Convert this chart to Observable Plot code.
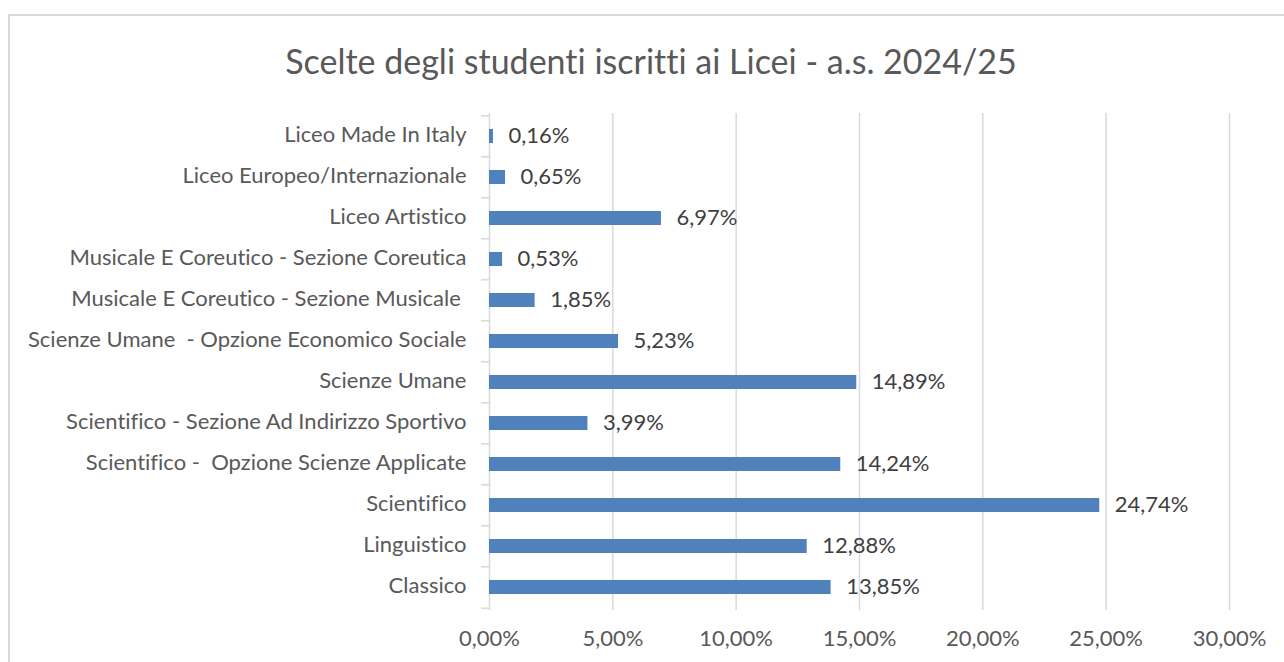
<!DOCTYPE html>
<html>
<head>
<meta charset="utf-8">
<script src="https://cdn.jsdelivr.net/npm/d3@7"></script>
<script src="https://cdn.jsdelivr.net/npm/@observablehq/plot@0.6"></script>
<style>
  html, body { margin: 0; padding: 0; background: #fff; }
  #wrap { position: relative; width: 1284px; height: 662px; overflow: hidden; font-family: Lato, "Open Sans", sans-serif; font-variant-ligatures: none; }
  #frame { position: absolute; left: 8px; top: 14px; width: 1400px; height: 800px; border: 2px solid #d9d9d9; box-sizing: border-box; }
  #title { position: absolute; left: 8px; width: 1286px; top: 38px; text-align: center; font-size: 34px; color: #595959; line-height: 46px; font-variant-ligatures: none; }
  #chart { position: absolute; left: 0; top: 0; }
  #chart text { white-space: pre; font-variant-ligatures: none; }
</style>
</head>
<body>
<div id="wrap">
  <div id="frame"></div>
  <div id="title">Scelte degli studenti iscritti ai Licei - a.s. 2024/25</div>
  <div id="chart"></div>
</div>
<script>
const categories = [
  "Liceo Made In Italy",
  "Liceo Europeo/Internazionale",
  "Liceo Artistico",
  "Musicale E Coreutico - Sezione Coreutica",
  "Musicale E Coreutico - Sezione Musicale ",
  "Scienze Umane  - Opzione Economico Sociale",
  "Scienze Umane",
  "Scientifico - Sezione Ad Indirizzo Sportivo",
  "Scientifico -  Opzione Scienze Applicate",
  "Scientifico",
  "Linguistico",
  "Classico"
];
const values = [0.16, 0.65, 6.97, 0.53, 1.85, 5.23, 14.89, 3.99, 14.24, 24.74, 12.88, 13.85];
const xTicks = [0, 5, 10, 15, 20, 25, 30];

const data = categories.map((c, i) => ({category: c, value: values[i]}));
const fmt = v => d3.format(".2f")(v).replace(".", ",") + "%";

const W = 1284, H = 662;
const mTop = 113, mBottom = 52, mLeft = 489, mRight = 55;
const step = (H - mTop - mBottom) / categories.length;

const chart = Plot.plot({
  width: W,
  height: H,
  marginTop: mTop,
  marginBottom: mBottom,
  marginLeft: mLeft,
  marginRight: mRight,
  style: {fontFamily: "Lato, 'Open Sans', sans-serif", fontSize: "22px", background: "transparent", overflow: "visible"},
  x: {domain: [0, 30], ticks: xTicks, label: null},
  y: {domain: categories, paddingInner: 0.66, paddingOuter: 0.33, label: null},
  marks: [
    Plot.ruleX(xTicks.slice(1), {stroke: "#d9d9d9", strokeWidth: 1.5}),
    Plot.ruleX([0], {stroke: "#d9d9d9", strokeWidth: 1.5}),
    Plot.axisY({tickSize: 8, text: null, label: null, stroke: "#d9d9d9", strokeWidth: 1.5, dy: -step / 2, tickPadding: 0}),
    Plot.axisY([categories[categories.length - 1]], {tickSize: 8, text: null, label: null, stroke: "#d9d9d9", strokeWidth: 1.5, dy: step / 2}),
    Plot.axisY({tickSize: 0, tickPadding: 23, fill: "#595959", fontSize: 22, label: null, dy: -1.5}),
    Plot.axisX({ticks: xTicks, tickSize: 0, tickPadding: 20, tickFormat: fmt, fill: "#595959", fontSize: 22, label: null}),
    Plot.barX(data, {x: "value", y: "category", fill: "#4f81bd"}),
    Plot.text(data, {x: "value", y: "category", text: d => fmt(d.value), textAnchor: "start", dx: 15, dy: -1, fill: "#404040", fontSize: 22})
  ]
});
document.getElementById("chart").appendChild(chart);
</script>
</body>
</html>
